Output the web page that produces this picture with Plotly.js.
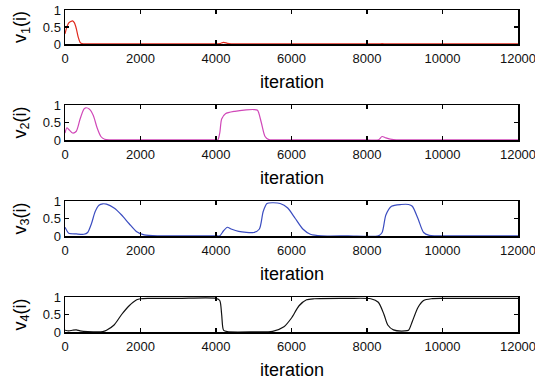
<!DOCTYPE html>
<html>
<head>
<meta charset="utf-8">
<script src="https://cdn.plot.ly/plotly-3.0.1.min.js"></script>
<style>html,body{margin:0;padding:0;background:#fff;}#chart{width:535px;height:383px;}</style>
</head>
<body>
<div id="chart"></div>
<script>
// Data
const x1 = [0,50,100,150,200,250,300,350,400,450,500,1000,2000,3000,4000,4100,4200,4300,4400,5000,6000,7000,8000,8300,8400,8500,8700,9000,10000,11000,12000];
const v1 = [0.3,0.5,0.62,0.66,0.68,0.62,0.45,0.2,0.05,0.01,0.005,0.004,0.004,0.004,0.004,0.01,0.05,0.02,0.005,0.004,0.004,0.004,0.004,0.004,0.01,0.005,0.004,0.004,0.004,0.004,0.004];

const x2 = [0,50,100,200,300,400,500,550,650,750,850,950,1050,1200,2000,3000,4000,4050,4100,4150,4250,4500,4800,5000,5100,5200,5300,5400,5600,6000,7000,8000,8300,8400,8500,8700,9000,10000,11000,12000];
const v2 = [0.2,0.35,0.3,0.2,0.25,0.6,0.88,0.92,0.88,0.7,0.35,0.1,0.02,0.005,0.004,0.004,0.004,0.004,0.2,0.6,0.75,0.82,0.86,0.87,0.85,0.5,0.1,0.01,0.004,0.004,0.004,0.004,0.004,0.1,0.06,0.01,0.004,0.004,0.004,0.004];

const x3 = [0,50,100,300,500,600,700,800,900,1000,1100,1300,1500,1700,1900,2100,2500,3000,4000,4100,4200,4300,4400,4600,5000,5150,5250,5350,5500,5700,5900,6100,6300,6500,6800,7500,8300,8400,8500,8650,8900,9100,9200,9350,9500,9650,9800,10500,11000,12000];
const v3 = [0.25,0.15,0.08,0.06,0.05,0.1,0.35,0.7,0.88,0.92,0.91,0.8,0.6,0.35,0.12,0.03,0.005,0.004,0.004,0.005,0.15,0.25,0.2,0.13,0.1,0.2,0.7,0.93,0.95,0.93,0.8,0.5,0.2,0.05,0.005,0.004,0.004,0.1,0.6,0.85,0.9,0.9,0.85,0.5,0.1,0.02,0.005,0.004,0.004,0.004];

const x4 = [0,100,200,300,400,600,1000,1100,1300,1500,1700,1900,2000,2200,3000,4000,4100,4150,4200,4300,5000,5500,5800,6000,6200,6400,6600,7500,8100,8300,8450,8550,8700,9000,9100,9200,9350,9500,9700,10000,11000,12000];
const v4 = [0.05,0.03,0.05,0.06,0.03,0.01,0.01,0.05,0.2,0.5,0.75,0.92,0.95,0.96,0.96,0.96,0.9,0.5,0.05,0.01,0.005,0.02,0.15,0.4,0.75,0.92,0.95,0.96,0.95,0.85,0.5,0.2,0.06,0.03,0.05,0.3,0.7,0.9,0.95,0.96,0.96,0.96];

const series = [
  {x: x1, y: v1, color: '#e02a1e', label: 'v<sub>1</sub>(i)'},
  {x: x2, y: v2, color: '#d048b8', label: 'v<sub>2</sub>(i)'},
  {x: x3, y: v3, color: '#3a4cc0', label: 'v<sub>3</sub>(i)'},
  {x: x4, y: v4, color: '#111111', label: 'v<sub>4</sub>(i)'}
];
const xTicks = [0,2000,4000,6000,8000,10000,12000];
const yTicks = [0,0.5,1];

const W = 535, H = 383;
const boxes = [[10,44],[105,140],[201,236],[297,332]]; // top,bottom px
const xl = 65, xr = 518;

const traces = [];
const layout = {
  width: W, height: H,
  margin: {l:0,r:0,t:0,b:0},
  paper_bgcolor: '#fff', plot_bgcolor: '#fff',
  showlegend: false,
  font: {family: 'Liberation Sans, Arial, sans-serif', size: 13, color: '#000'},
  annotations: []
};
series.forEach((s, i) => {
  const n = i === 0 ? '' : String(i + 1);
  traces.push({
    x: s.x, y: s.y, type: 'scatter', mode: 'lines',
    line: {color: s.color, width: 1.2, shape: 'spline', smoothing: 0.7},
    xaxis: 'x' + n, yaxis: 'y' + n, hoverinfo: 'skip'
  });
  const [t, b] = boxes[i];
  const common = {
    showline: true, linecolor: '#000', linewidth: 1.5, mirror: 'ticks',
    ticks: 'inside', ticklen: 4, tickwidth: 1.2, tickcolor: '#000',
    showgrid: false, zeroline: false, fixedrange: true,
    ticklabeloverflow: 'allow',
    tickfont: {size: 13, color: '#111'}
  };
  layout['xaxis' + n] = Object.assign({}, common, {
    domain: [xl / W, xr / W], range: [0, 12000],
    tickvals: xTicks, ticktext: xTicks.map(String),
    ticklabelstandoff: 2,
    anchor: 'y' + n
  });
  layout['yaxis' + n] = Object.assign({}, common, {
    domain: [1 - b / H, 1 - t / H], range: [0, 1],
    tickvals: yTicks, ticktext: yTicks.map(String),
    anchor: 'x' + n
  });
  layout.annotations.push({
    text: 'iteration', xref: 'paper', yref: 'paper',
    x: (xl + xr) / 2 / W, y: 1 - (b + 38) / H,
    showarrow: false, font: {size: 18, color: '#000'},
    xanchor: 'center', yanchor: 'middle'
  });
  layout.annotations.push({
    text: s.label, xref: 'paper', yref: 'paper',
    x: 21 / W, y: 1 - ((t + b) / 2) / H,
    showarrow: false, textangle: -90, font: {size: 18, color: '#000'},
    xanchor: 'center', yanchor: 'middle'
  });
});
Plotly.newPlot('chart', traces, layout, {staticPlot: true, displayModeBar: false});
</script>
</body>
</html>
